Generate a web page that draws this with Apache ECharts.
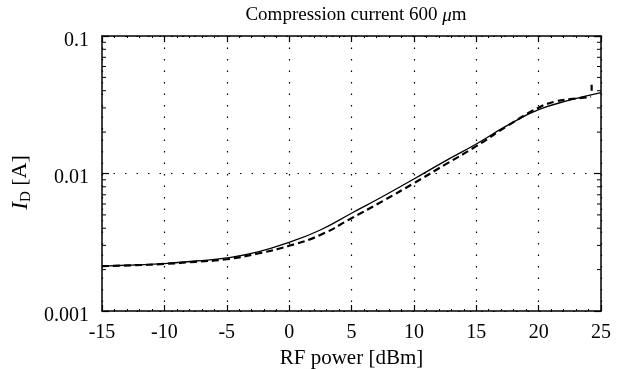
<!DOCTYPE html>
<html>
<head>
<meta charset="utf-8">
<script src="https://cdn.jsdelivr.net/npm/echarts@6/dist/echarts.min.js"></script>
<style>
  html, body { margin: 0; padding: 0; background: #fff; }
  #chart { width: 628px; height: 369px; }
</style>
</head>
<body>
<div id="chart"></div>
<script>
// RF power [dBm]
var powerDbm = [-15, -12.5, -10, -7.5, -5, -2.5, 0, 2.5, 5, 7.5, 10, 12.5, 15, 17.5, 20, 22.5, 25];
// solid curve, I_D [A]
var solidCurrent = [0.00212, 0.00216, 0.00221, 0.00231, 0.00243, 0.00269, 0.00316, 0.00388, 0.00514,
  0.0068, 0.00912, 0.0123, 0.0164, 0.0224, 0.0291, 0.0341, 0.0387];
// dashed curve, I_D [A]
var dashedPower = [-15, -12.5, -10, -7.5, -5, -2.5, 0, 2.5, 5, 7.5, 10, 12.5, 15, 17.5, 20, 21.3, 22.5, 23.6, 24.2];
var dashedCurrent = [0.00212, 0.00215, 0.0022, 0.00228, 0.00238, 0.00262, 0.00298, 0.00357, 0.00473,
  0.0063, 0.0085, 0.0116, 0.0158, 0.0222, 0.0301, 0.0333, 0.0347, 0.0356, 0.0362];
// little vertical end of the dashed curve
var blipPower = [24.25, 24.25];
var blipCurrent = [0.0400, 0.0442];

var yTickLabels = { '0.001': '0.001', '0.01': '0.01', '0.1': '0.1' };
var yMinorTicks = [0.002, 0.003, 0.004, 0.005, 0.006, 0.007, 0.008, 0.009,
  0.02, 0.03, 0.04, 0.05, 0.06, 0.07, 0.08, 0.09];

function zip(a, b) {
  return a.map(function (v, i) { return [v, b[i]]; });
}

var font = 'Liberation Serif';
var dotted = { color: '#000', width: 1.2, type: [1.5, 10] };

var chart = echarts.init(document.getElementById('chart'));
var option = {
  animation: false,
  backgroundColor: '#fff',
  title: {
    text: '{n|Compression current 600 }{mu|\u03bc}{n|m}',
    left: 351,
    top: 1,
    textAlign: 'center',
    textStyle: {
      rich: {
        n: { fontFamily: font, fontSize: 19, fontWeight: 'normal', color: '#000' },
        mu: { fontFamily: font, fontSize: 19, fontWeight: 'normal', fontStyle: 'italic', color: '#000' }
      }
    }
  },
  grid: { left: 102, right: 27, top: 36, bottom: 58, outerBoundsMode: 'none', containLabel: false },
  xAxis: [
    {
      type: 'value',
      min: -15,
      max: 25,
      interval: 5,
      name: 'RF power [dBm]',
      nameLocation: 'middle',
      nameGap: 36,
      nameTextStyle: { fontFamily: font, fontSize: 21, color: '#000' },
      axisLine: { onZero: false, lineStyle: { color: '#000', width: 1.5 } },
      axisTick: { inside: true, length: 6, lineStyle: { color: '#000', width: 1.2 } },
      minorTick: { show: true, splitNumber: 5, length: 2, lineStyle: { color: '#000', width: 1 } },
      axisLabel: { fontFamily: font, fontSize: 20, color: '#000', margin: 12 },
      splitLine: { show: true, lineStyle: dotted }
    },
    {
      type: 'value',
      position: 'top',
      min: -15,
      max: 25,
      interval: 5,
      axisLine: { onZero: false, lineStyle: { color: '#000', width: 1.5 } },
      axisTick: { inside: true, length: 6, lineStyle: { color: '#000', width: 1.2 } },
      minorTick: { show: true, splitNumber: 5, length: 2, lineStyle: { color: '#000', width: 1 } },
      axisLabel: { show: false },
      splitLine: { show: false }
    }
  ],
  yAxis: [
    {
      type: 'log',
      logBase: 10,
      min: 0.001,
      max: 0.1,
      name: '{i|I}{sub|D}{n| [A]}',
      nameLocation: 'middle',
      nameGap: 68,
      nameTextStyle: {
        padding: [0, 18, 0, 0],
        rich: {
          i: { fontFamily: font, fontSize: 23, fontStyle: 'italic', color: '#000' },
          sub: { fontFamily: font, fontSize: 15, color: '#000', verticalAlign: 'bottom', padding: [10, 0, 0, 0] },
          n: { fontFamily: font, fontSize: 22, color: '#000' }
        }
      },
      axisLine: { onZero: false, lineStyle: { color: '#000', width: 1.5 } },
      axisTick: { inside: true, length: 7, lineStyle: { color: '#000', width: 1.2 } },
      axisLabel: {
        margin: 13,
        formatter: function (v) {
          var k = String(Number(v.toPrecision(3)));
          return yTickLabels[k] ? '{t|' + yTickLabels[k] + '}' : '';
        },
        rich: {
          t: { fontFamily: font, fontSize: 20, color: '#000', padding: [9, 0, 0, 0] }
        }
      },
      splitLine: { show: true, lineStyle: dotted }
    },
    {
      type: 'log',
      logBase: 10,
      min: 0.001,
      max: 0.1,
      position: 'right',
      axisLine: { onZero: false, lineStyle: { color: '#000', width: 1.5 } },
      axisTick: { inside: true, length: 7, lineStyle: { color: '#000', width: 1.2 } },
      axisLabel: { show: false },
      splitLine: { show: false }
    }
  ],
  series: [
    {
      name: 'solid',
      type: 'line',
      data: zip(powerDbm, solidCurrent),
      smooth: 0.5,
      showSymbol: false,
      lineStyle: { color: '#000', width: 1.3 },
      z: 5
    },
    {
      name: 'dashed',
      type: 'line',
      data: zip(dashedPower, dashedCurrent),
      smooth: 0.5,
      showSymbol: false,
      lineStyle: { color: '#000', width: 2.2, type: [7, 4] },
      z: 5
    },
    {
      name: 'blip',
      type: 'line',
      data: zip(blipPower, blipCurrent),
      showSymbol: false,
      lineStyle: { color: '#000', width: 2.2 },
      z: 5
    },
    {
      // log-axis minor ticks on left and right frame
      name: 'yMinor',
      type: 'custom',
      silent: true,
      clip: false,
      data: yMinorTicks.map(function (v) { return [-15, v]; }),
      renderItem: function (params, api) {
        var p = api.coord([-15, api.value(1)]);
        var q = api.coord([25, api.value(1)]);
        var style = { stroke: '#000', lineWidth: 1 };
        return {
          type: 'group',
          children: [
            { type: 'line', shape: { x1: p[0], y1: p[1], x2: p[0] + 4, y2: p[1] }, style: style },
            { type: 'line', shape: { x1: q[0] - 4, y1: q[1], x2: q[0], y2: q[1] }, style: style }
          ]
        };
      },
      z: 6
    }
  ]
};
chart.setOption(option);
window.addEventListener('resize', function () {
  chart.resize();
});
</script>
</body>
</html>
